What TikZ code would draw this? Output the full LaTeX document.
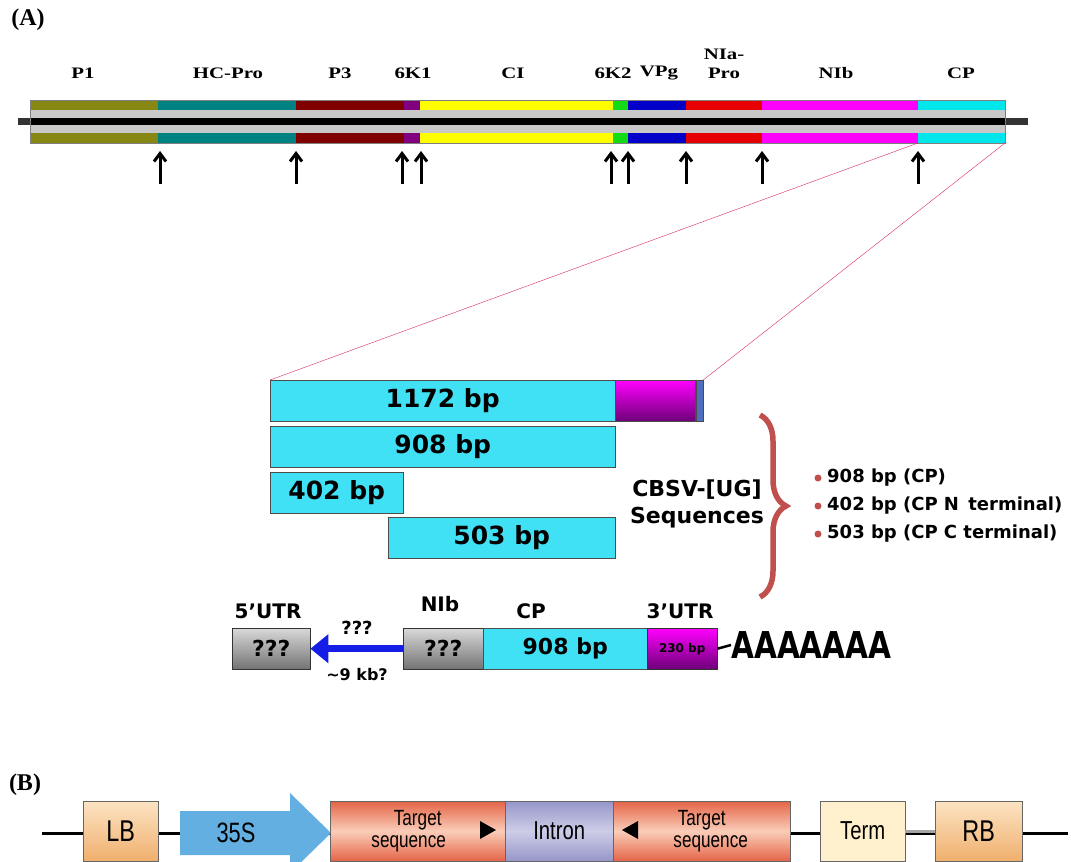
\documentclass[tikz,border=0pt]{standalone}
\usepackage{fontspec}
\setmainfont{Liberation Serif}
\newfontfamily\genefont[FakeStretch=1.3]{Liberation Serif}
\newfontfamily\boxfont{DejaVu Sans}
\newfontfamily\polyfont[FakeStretch=0.8]{DejaVu Sans}
\newfontfamily\narrowfont[FakeStretch=0.78]{Liberation Sans}
\usetikzlibrary{arrows.meta,decorations.pathreplacing}

\definecolor{gP1}{RGB}{135,135,20}
\definecolor{gHC}{RGB}{0,130,130}
\definecolor{gP3}{RGB}{128,0,0}
\definecolor{gSixA}{RGB}{128,0,128}
\definecolor{gCI}{RGB}{255,255,0}
\definecolor{gSixB}{RGB}{20,220,20}
\definecolor{gVPg}{RGB}{0,0,200}
\definecolor{gNIa}{RGB}{230,0,0}
\definecolor{gNIb}{RGB}{255,0,255}
\definecolor{gCP}{RGB}{0,230,235}
\definecolor{gband}{RGB}{200,200,200}
\definecolor{seqcyan}{RGB}{64,224,245}
\definecolor{seqmag}{RGB}{255,0,255}
\definecolor{seqdark}{RGB}{110,0,120}
\definecolor{sliver}{RGB}{80,110,190}
\definecolor{bracered}{RGB}{192,80,77}
\definecolor{linkpink}{RGB}{215,40,100}
\definecolor{arrowblue}{RGB}{20,30,230}
\definecolor{boxtop}{RGB}{252,228,195}
\definecolor{boxbot}{RGB}{240,175,110}
\definecolor{tgtred}{RGB}{228,100,70}
\definecolor{tgtlight}{RGB}{250,205,185}
\definecolor{intdark}{RGB}{150,150,200}
\definecolor{intlight}{RGB}{205,205,232}
\definecolor{termfill}{RGB}{255,240,205}
\definecolor{promblue}{RGB}{100,175,225}

\begin{document}
\begin{tikzpicture}[x=1pt, y=-1pt,
    genelabel/.style={font=\genefont\bfseries\fontsize{16}{19}\selectfont, inner sep=0pt},
    cleave/.style={-{Straight Barb[length=8pt,width=12pt,line width=3pt]}, line width=3pt},
    seqbox/.style={draw=black!70, fill=seqcyan, minimum height=41, inner sep=0pt,
        anchor=north west, font=\boxfont\bfseries\fontsize{25}{28}\selectfont},
    greybox/.style={draw=black!80, top color=black!15, bottom color=black!55, minimum height=41,
        inner sep=0pt, anchor=north west, font=\boxfont\bfseries\fontsize{22}{24}\selectfont},
    rowlabel/.style={font=\boxfont\bfseries\fontsize{20}{22}\selectfont, inner sep=0pt},
    vecbox/.style={draw=black!60, minimum height=60, inner sep=0pt, anchor=west,
        font=\narrowfont\fontsize{30}{30}\selectfont},
    tgtbox/.style={vecbox, top color=tgtred, bottom color=tgtred, middle color=tgtlight,
        font=\narrowfont\fontsize{22}{22}\selectfont, align=center}]
    \clip (0,0) rectangle (1071,862);

    % panel letters
    \node[font=\bfseries\fontsize{24}{24}\selectfont] (lettA) at (28,20) {(A)};
    \node[font=\bfseries\fontsize{24}{24}\selectfont] (lettB) at (25,785) {(B)};

    % genome bar
    \draw[line width=7pt, black!80] (18,121) -- (1028,121);
    \foreach \xa/\xb/\col in {30/158/gP1, 158/296/gHC, 296/404/gP3, 404/420/gSixA,
        420/613/gCI, 613/628/gSixB, 628/686/gVPg, 686/762/gNIa, 762/918/gNIb, 918/1005/gCP}
        \fill[\col] (\xa,100) rectangle (\xb,143);
    \fill[gband] (30,110) rectangle (1005,133);
    \draw[line width=7pt] (30,121) -- (1005,121);
    \draw[black!50] (30,100) rectangle (1005,143);
    \coordinate (cpl) at (918,143);
    \coordinate (cpr) at (1005,143);

    % gene names
    \node[genelabel] (nP1) at (83,73) {P1};
    \node[genelabel] (nHC) at (228,73) {HC-Pro};
    \node[genelabel] (nP3) at (340,73) {P3};
    \node[genelabel] (nSixA) at (413,73) {6K1};
    \node[genelabel] (nCI) at (513,73) {CI};
    \node[genelabel] (nSixB) at (613,73) {6K2};
    \node[genelabel] (nVPg) at (659,73) {VPg};
    \node[genelabel, align=center] (nNIa) at (724,64) {NIa-\\Pro};
    \node[genelabel] (nNIb) at (836,73) {NIb};
    \node[genelabel] (nCP) at (961,73) {CP};

    % cleavage sites
    \foreach \x in {160, 296, 402, 421, 611, 628, 686, 762, 918}
        \draw[cleave] (\x,184) -- (\x,151);

    % sequenced fragments
    \node[seqbox, minimum width=345] (s1172) at (270,380) {1172 bp};
    \node[draw=black!70, top color=seqmag, bottom color=seqdark, minimum width=80,
        minimum height=41, inner sep=0pt, anchor=north west] (s1172u) at (s1172.north east) {};
    \node[draw=black!70, fill=sliver, minimum width=7, minimum height=41, inner sep=0pt,
        anchor=north west] (s1172e) at (s1172u.north east) {};
    \node[seqbox, minimum width=345] (s908) at (270,426) {908 bp};
    \node[seqbox, minimum width=133] (s402) at (270,472) {402 bp};
    \node[seqbox, minimum width=227] (s503) at (388,517) {503 bp};

    \draw[linkpink, thin] (cpl) -- (s1172.north west);
    \draw[linkpink, thin] (cpr) -- (s1172e.north east);

    \node[font=\boxfont\bfseries\fontsize{22}{27}\selectfont, align=center] (cbsv) at (697,504)
        {CBSV-[UG]\\Sequences};
    \draw[bracered, line width=5.5pt, decorate,
        decoration={brace, amplitude=26pt, aspect=0.5}] (760,415) -- (760,597);

    % list
    \foreach \yy/\txt in {478/908 bp (CP), 506/402 bp (CP N\, terminal), 534/503 bp (CP C terminal)} {
        \fill[bracered] (818,\yy) circle (3.5pt);
        \node[anchor=west, inner sep=0pt, font=\boxfont\bfseries\fontsize{18}{20}\selectfont]
            at (827,\yy) {\txt};
    }

    % genome end
    \node[greybox, minimum width=78] (utr5) at (232,628) {???};
    \node[greybox, minimum width=80] (nib) at (403,628) {???};
    \node[seqbox, minimum width=164, font=\boxfont\bfseries\fontsize{22}{24}\selectfont] (cp) at (483,628) {908 bp};
    \node[draw=black!80, top color=seqmag, bottom color=seqdark, minimum width=70, minimum height=41,
        inner sep=0pt, anchor=north west, font=\boxfont\bfseries\fontsize{12}{14}\selectfont] (utr3) at (647,628) {230 bp};
    \node[rowlabel] (l5) at (268,611) {5’UTR};
    \node[rowlabel] (lnib) at (440,604) {NIb};
    \node[rowlabel] (lcp) at (531,611) {CP};
    \node[rowlabel] (l3) at (680,611) {3’UTR};
    \draw[arrowblue, line width=7pt, -{Triangle[length=18pt,width=28pt]}] (nib.west) -- (utr5.east);
    \node[font=\boxfont\bfseries\fontsize{18}{20}\selectfont] (q) at (357,628) {???};
    \node[font=\boxfont\bfseries\fontsize{16}{18}\selectfont] (kb) at (357,675) {\textasciitilde9 kb?};
    \node[anchor=west, inner sep=0pt, font=\polyfont\bfseries\fontsize{37}{40}\selectfont] (polya) at (731,645) {AAAAAAA};
    \draw[line width=2.5pt] (utr3.east) -- (polya.west);

    % construct
    \draw[line width=3pt] (42,833) -- (1068,833);
    \node[vecbox, minimum width=75, top color=boxtop, bottom color=boxbot] (lb) at (83,831) {LB};
    \fill[promblue] (180,811) -- (290,811) -- (290,793) -- (331,833) -- (290,873) -- (290,855)
        -- (180,855) -- cycle;
    \node[font=\narrowfont\fontsize{28}{28}\selectfont] (p35) at (236,833) {35S};
    \node[tgtbox, minimum width=175] (t1) at (330,831) {Target\\sequence\hspace*{18pt}};
    \node[vecbox, minimum width=108, top color=intdark, bottom color=intdark, middle color=intlight,
        font=\narrowfont\fontsize{26}{26}\selectfont] (intr) at (505,831) {Intron};
    \node[tgtbox, minimum width=177] (t2) at (613,831) {Target\\\hspace*{18pt}sequence};
    \node[vecbox, minimum width=85, fill=termfill, font=\narrowfont\fontsize{26}{26}\selectfont] (term) at (820,831) {Term};
    \node[vecbox, minimum width=87, top color=boxtop, bottom color=boxbot] (rb) at (935,831) {RB};
    \draw[line width=3pt, black!35] (term.east) -- (rb.west);
    \fill (480,821) -- (496,830) -- (480,839) -- cycle;
    \fill (638,821) -- (622,830) -- (638,839) -- cycle;
\end{tikzpicture}
\end{document}
